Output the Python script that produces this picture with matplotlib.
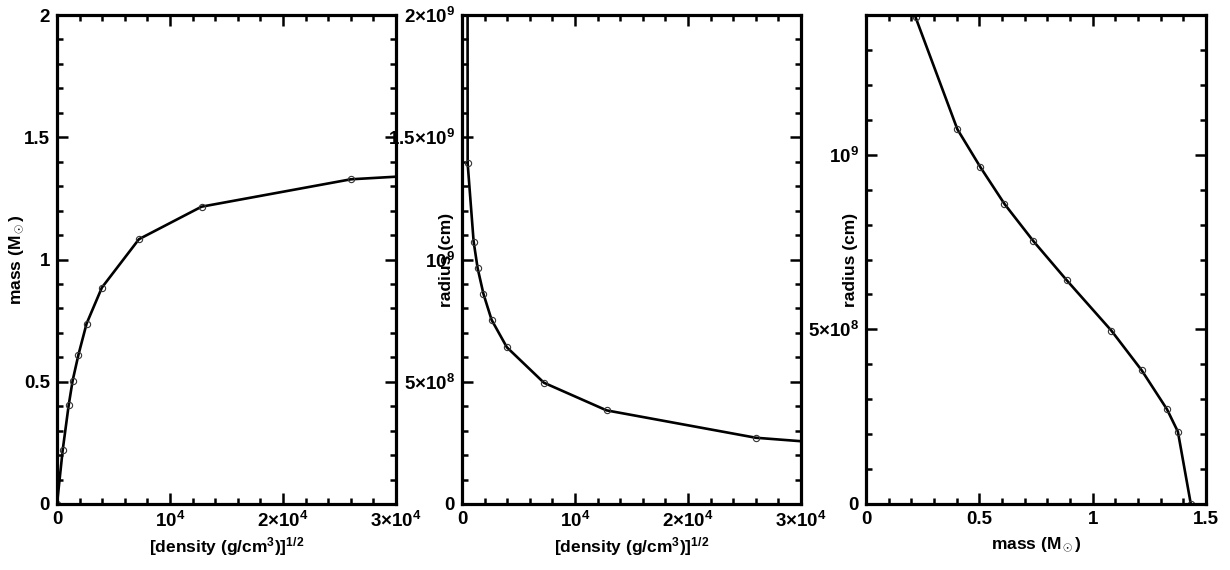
import numpy as np
import matplotlib
matplotlib.use("Agg")
import matplotlib.pyplot as plt
from matplotlib.ticker import MultipleLocator

# Modelos de anã branca: raiz da densidade central, massa e raio
sqrt_rho = [0, 500, 1030, 1385, 1900, 2620, 3970, 7250, 12790, 26000, 44000, 1e6]
massa = [0, 0.219, 0.403, 0.505, 0.611, 0.738, 0.885, 1.083, 1.216, 1.328, 1.376, 1.433]
raio = [5e10, 1.393e9, 1.073e9, 0.964e9, 0.859e9, 0.753e9, 0.641e9,
        0.496e9, 0.383e9, 0.271e9, 0.207e9, 0.0]

xticks_rho = [0, 1e4, 2e4, 3e4]
xlabels_rho = ["0", "10$^4$", "2×10$^4$", "3×10$^4$"]
yticks_m = [0, 0.5, 1, 1.5, 2]
ylabels_m = ["0", "0.5", "1", "1.5", "2"]
yticks_r = [0, 5e8, 1e9, 1.5e9, 2e9]
ylabels_r = ["0", "5×10$^8$", "10$^9$", "1.5×10$^9$", "2×10$^9$"]
xticks_m = [0, 0.5, 1, 1.5]
xlabels_m = ["0", "0.5", "1", "1.5"]

plt.rcParams["font.family"] = "Liberation Sans"
plt.rcParams["font.weight"] = "bold"
plt.rcParams["axes.labelweight"] = "bold"
plt.rcParams["mathtext.fontset"] = "custom"
plt.rcParams["mathtext.rm"] = "Liberation Sans:bold"
plt.rcParams["mathtext.it"] = "Liberation Sans:bold"
plt.rcParams["mathtext.bf"] = "Liberation Sans:bold"
plt.rcParams["mathtext.default"] = "bf"

fig = plt.figure(figsize=(12.3, 5.7), dpi=100)
W, H = 1230, 570


def eixo(x0, x1):
    return fig.add_axes([x0 / W, (H - 504) / H, (x1 - x0) / W, 489 / H])


def estilo(ax):
    for s in ax.spines.values():
        s.set_linewidth(2.3)
    ax.tick_params(which="both", direction="in", top=True, right=True,
                   width=1.8, labelsize=13.5, pad=5)
    ax.tick_params(which="major", length=8)
    ax.tick_params(which="minor", length=4.5)


kw = dict(color="black", lw=1.9, marker="o", ms=4.5, mfc="none", mec="#333333", mew=0.8)

# Painel 1: massa x densidade
ax1 = eixo(57, 396)
ax1.plot(sqrt_rho, massa, **kw)
ax1.set_xlim(0, 3e4)
ax1.set_ylim(0, 2)
ax1.set_xticks(xticks_rho, xlabels_rho)
ax1.set_yticks(yticks_m, ylabels_m)
ax1.xaxis.set_minor_locator(MultipleLocator(2000))
ax1.yaxis.set_minor_locator(MultipleLocator(0.1))
ax1.set_xlabel(r"[density (g/cm$^3$)]$^{1/2}$", fontsize=12.5, labelpad=3)
ax1.set_ylabel(r"mass (M$_\odot$)", fontsize=12.5)
ax1.yaxis.set_label_coords(-0.091, 0.5)
estilo(ax1)

# Painel 2: raio x densidade
ax2 = eixo(462, 801)
ax2.plot(sqrt_rho, raio, **kw)
ax2.set_xlim(0, 3e4)
ax2.set_ylim(0, 2e9)
ax2.set_xticks(xticks_rho, xlabels_rho)
ax2.set_yticks(yticks_r, ylabels_r)
ax2.xaxis.set_minor_locator(MultipleLocator(2000))
ax2.yaxis.set_minor_locator(MultipleLocator(1e8))
ax2.set_xlabel(r"[density (g/cm$^3$)]$^{1/2}$", fontsize=12.5, labelpad=3)
ax2.set_ylabel("radius (cm)", fontsize=12.5)
ax2.yaxis.set_label_coords(-0.025, 0.5)
estilo(ax2)

# Painel 3: raio x massa
ax3 = eixo(866, 1206)
ax3.plot(massa, raio, **kw)
ax3.set_xlim(0, 1.5)
ax3.set_ylim(0, 1.4e9)
ax3.set_xticks(xticks_m, xlabels_m)
ax3.set_yticks(yticks_r[:3], ylabels_r[:3])
ax3.xaxis.set_minor_locator(MultipleLocator(0.1))
ax3.yaxis.set_minor_locator(MultipleLocator(1e8))
ax3.set_xlabel(r"mass (M$_\odot$)", fontsize=12.5, labelpad=5)
ax3.set_ylabel("radius (cm)", fontsize=12.5)
ax3.yaxis.set_label_coords(-0.024, 0.5)
estilo(ax3)

fig.savefig("out.png", dpi=100)
